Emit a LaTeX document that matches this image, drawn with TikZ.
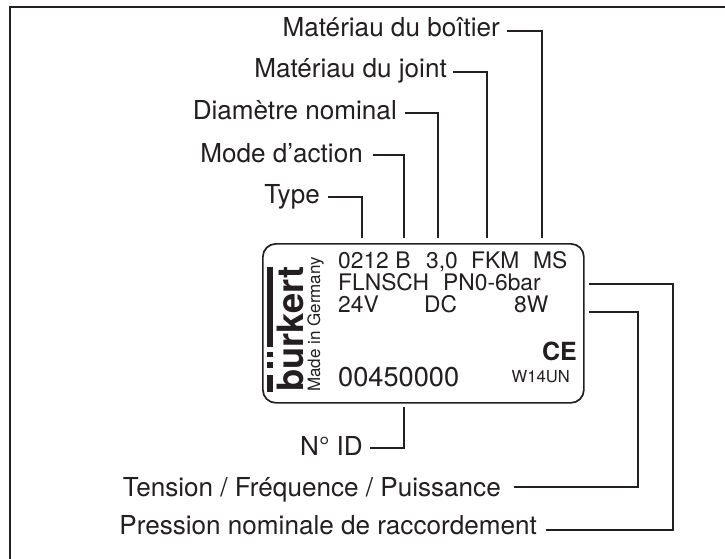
\documentclass[tikz,border=0pt]{standalone}
\usepackage{fontspec}
\setmainfont{TeX Gyre Heros}
\definecolor{ink}{HTML}{231F20}
\begin{document}
\begin{tikzpicture}[x=1pt,y=-1pt,
 lab/.style={inner sep=0pt,anchor=base east,text=ink,font=\fontsize{26.1}{26.1}\selectfont},
 plate/.style={inner sep=0pt,anchor=base west,text=ink,font=\fontsize{22.8}{22.8}\selectfont},
 conn/.style={line width=2pt,draw=ink},
 logobar/.style={fill=ink,draw=none}]
\useasboundingbox (0,0) rectangle (725,559);
\fill[white] (0,0) rectangle (725,559);
\draw[line width=2.2pt,draw=ink] (725,7) -- (10,7) -- (10,559);
\node[draw=ink,line width=1.7pt,rounded corners=13pt,minimum width=321pt,minimum height=159pt,anchor=north west,inner sep=0pt] (pl) at (262,243) {};
\node[plate] (a) at (338,268) {0212 B};
\node[plate] (b) at (426,268) {3,0};
\node[plate] (c) at (471,268) {FKM};
\node[plate] (d) at (533,268) {MS};
\node[plate] (e) at (338,290) {FLNSCH};
\node[plate] (f) at (443,290) {PN0-6bar};
\node[plate] (g) at (338,312) {24V};
\node[plate] (h) at (424,312) {DC};
\node[plate] (i) at (514,312) {8W};
\node[plate,font=\fontsize{27.2}{27.2}\selectfont] (id) at (338,386) {00450000};
\node[inner sep=0pt,anchor=base east,text=ink,font=\bfseries\fontsize{25}{25}\selectfont] (ce) at (577,360) {CE};
\node[inner sep=0pt,anchor=base east,text=ink,font=\fontsize{16.6}{16.6}\selectfont] (w) at (570,382) {W14UN};
\node[rotate=90,inner sep=0pt,anchor=base west,text=ink,font=\bfseries\fontsize{36.3}{36.3}\selectfont] (bk) at (303,392) {bürkert};
\fill[white] (274.5,350) rectangle (282.5,369.5);
\fill[logobar] (267,267) rectangle (273,347);
\fill[logobar] (267,352) rectangle (273,357);
\fill[logobar] (267,362) rectangle (273,368);
\fill[logobar] (267,375) rectangle (273,392);
\node[rotate=90,inner sep=0pt,anchor=base west,text=ink,font=\fontsize{17}{17}\selectfont] (mg) at (320,392) {Made in Germany};
\node[lab] (m1) at (500,37) {Matériau du boîtier};
\node[lab] (m2) at (447,78) {Matériau du joint};
\node[lab] (m3) at (397,120) {Diamètre nominal};
\node[lab] (m4) at (363,162) {Mode d’action};
\node[lab] (m5) at (320,203) {Type};
\node[lab] (m6) at (363,455) {N° ID};
\node[lab] (m7) at (501,496) {Tension / Fréquence / Puissance};
\node[lab] (m8) at (537,534) {Pression nominale de raccordement};
\coordinate (s1) at (507,31);
\coordinate (s2) at (453,72);
\coordinate (s3) at (405,113);
\coordinate (s4) at (373,155);
\coordinate (s5) at (328,197);
\coordinate (s6) at (370,448);
\coordinate (s7) at (514,487);
\coordinate (s8) at (545.5,530);
\coordinate (p1) at (542,238);
\coordinate (p2) at (487,238);
\coordinate (p3) at (438,238);
\coordinate (p4) at (404,238);
\coordinate (p5) at (362,238);
\coordinate (p6) at (404,407);
\coordinate (p7) at (589,312);
\coordinate (p8) at (589,284);
\draw[conn] (s1) -| (p1);
\draw[conn] (s2) -| (p2);
\draw[conn] (s3) -| (p3);
\draw[conn] (s4) -| (p4);
\draw[conn] (s5) -| (p5);
\draw[conn] (s6) -| (p6);
\draw[conn] (s7) -| (638,312) -- (p7);
\draw[conn] (s8) -| (673,284) -- (p8);
\end{tikzpicture}
\end{document}
